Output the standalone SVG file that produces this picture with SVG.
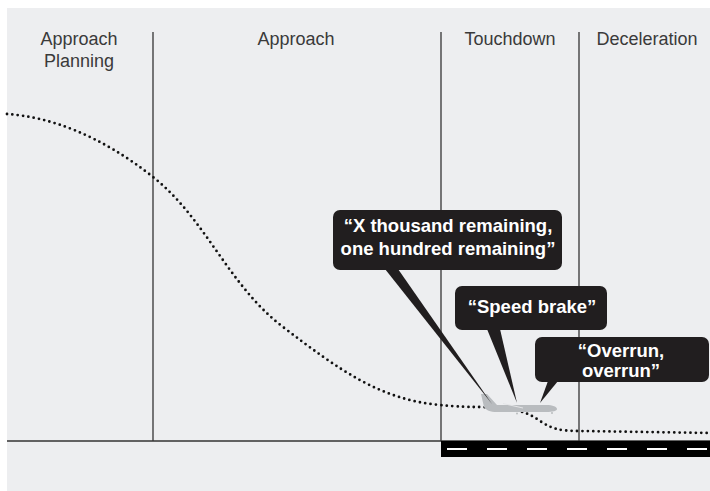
<svg xmlns="http://www.w3.org/2000/svg" width="710" height="491" viewBox="0 0 710 491">
<style>
.hdr{font-family:"Liberation Sans",Arial,sans-serif;font-size:18px;fill:#3a3a3a;text-anchor:middle}
.cal{font-family:"Liberation Sans",Arial,sans-serif;font-size:18.5px;font-weight:bold;fill:#ffffff;text-anchor:middle}
.box{fill:#211e1f}
.div{stroke:#333;stroke-width:1.3;fill:none}
</style>
<rect x="0" y="0" width="710" height="491" fill="#ffffff"/>
<rect x="7" y="8" width="703" height="483" fill="#edeef0"/>
<g id="dividers">
<line class="div" x1="153" y1="32" x2="153" y2="441"/>
<line class="div" x1="441" y1="32" x2="441" y2="441"/>
<line class="div" x1="579" y1="32" x2="579" y2="441"/>
<line class="div" x1="7" y1="441" x2="710" y2="441"/>
</g>
<g id="phase-approach-planning"><text class="hdr" x="79" y="45">Approach</text><text class="hdr" x="79" y="67">Planning</text></g>
<g id="phase-approach"><text class="hdr" x="296" y="45">Approach</text></g>
<g id="phase-touchdown"><text class="hdr" x="510" y="45">Touchdown</text></g>
<g id="phase-deceleration"><text class="hdr" x="647" y="45">Deceleration</text></g>
<g id="runway">
<rect x="441" y="441" width="269" height="16" fill="#000"/>
<line x1="447" y1="449" x2="710" y2="449" stroke="#fff" stroke-width="2" stroke-dasharray="20 20"/>
</g>
<g id="connectors">
<path d="M7,114 C50,117 100,135 153,177 S228,285 283,327 S380,400 440,405 C460,407 470,407 480,407 C510,408 525,410 540,421 C552,429 560,431 580,431 L710,433" fill="none" stroke="#111" stroke-width="2.8" stroke-linecap="round" stroke-dasharray="0 5.4"/>
</g>
<g id="airplane">
<path d="M481,394 L487,394 L497,405 L546,405 C553,405 557,407 557,409 C557,411 553,412 546,412 L497,412 C490,412 486,410 484,407 Z" fill="#b9bcbf"/>
<path d="M503,403.5 L523,408" stroke="#e4e5e7" stroke-width="1"/>
<circle cx="517" cy="413.5" r="1" fill="#b9bcbf"/>
<circle cx="552" cy="413" r="1" fill="#b9bcbf"/>
</g>
<g id="callout-remaining">
<path class="box" d="M385,269 L398,269 L492,404 Z"/>
<rect class="box" x="333" y="210" width="229" height="60" rx="7"/>
<text class="cal" x="448" y="232">“X thousand remaining,</text>
<text class="cal" x="448" y="255">one hundred remaining”</text>
</g>
<g id="callout-speed-brake">
<path class="box" d="M487,329 L500,329 L517,403 Z"/>
<rect class="box" x="455" y="286" width="152" height="44" rx="7"/>
<text class="cal" x="532" y="313">“Speed brake”</text>
</g>
<g id="callout-overrun">
<path class="box" d="M548,381 L558,381 L540,403 Z"/>
<rect class="box" x="535" y="337" width="174" height="45" rx="7"/>
<text class="cal" x="621" y="357">“Overrun,</text>
<text class="cal" x="621" y="377">overrun”</text>
</g>
</svg>
